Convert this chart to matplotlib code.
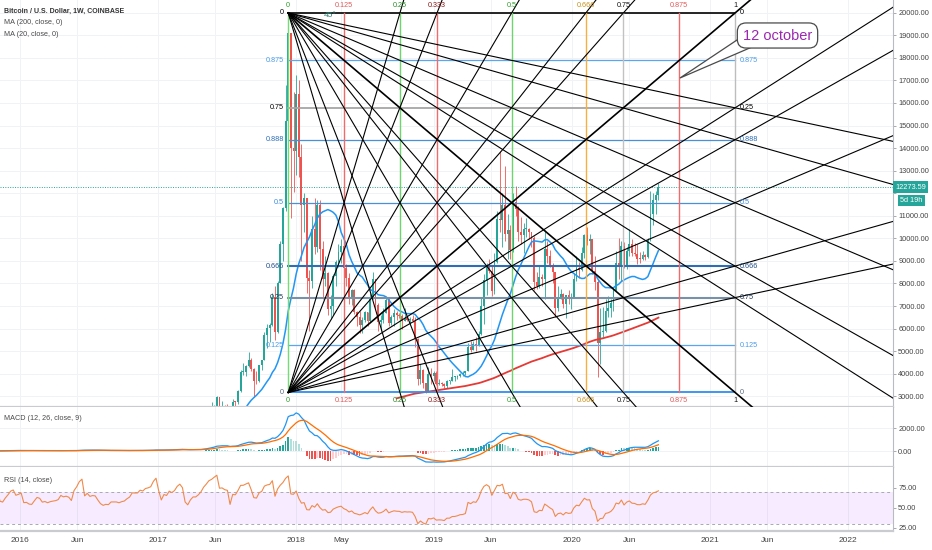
import numpy as np
import pandas as pd
import matplotlib
matplotlib.use("Agg")
import matplotlib.pyplot as plt
import matplotlib.dates as mdates
from matplotlib.patches import Polygon

plt.rcParams['font.family'] = ['Liberation Sans', 'DejaVu Sans']

# weekly closes (Coinbase BTC/USD, 1W), last bar = week of 2020-08-17
LAST_WEEK = '2020-08-17'
close_2014 = [375, 355, 330, 318, 315]
close_2015 = [275, 209, 253, 227, 222, 258, 240, 273, 276, 286, 261, 247, 254,
              236, 222, 219, 241, 242, 237, 240, 229, 224, 233, 244, 257, 270,
              312, 279, 288, 281, 263, 260, 228, 229, 240, 230, 232, 234, 239,
              246, 269, 287, 323, 387, 328, 323, 358, 390, 435, 452, 422, 433]
close_2016 = [448, 387, 390, 378, 376, 406, 438, 433, 410, 415, 408, 416, 420,
              423, 430, 461, 455, 460, 456, 443, 525, 575, 680, 760, 630, 680,
              650, 665, 662, 624, 587, 569, 581, 578, 609, 609, 609, 603, 613,
              619, 640, 657, 705, 704, 705, 738, 734, 766, 775, 791, 894, 998]
close_2017 = [910, 820, 925, 915, 1015, 1000, 1050, 1180, 1270, 1230, 1020, 965,
              1090, 1180, 1180, 1245, 1350, 1560, 1750, 2050, 2200, 2520, 2950,
              2550, 2580, 2520, 2500, 1930, 2750, 2730, 3230, 4070, 4090, 4350,
              4600, 4220, 3690, 3660, 4380, 4610, 5700, 6010, 6150, 7400, 5860,
              8040, 9740, 11350, 15200, 19100, 14000, 13880]
close_2018 = [16400, 13600, 11500, 11800, 8250, 8100, 10400, 9600, 11500, 9550,
              8200, 8450, 6850, 7000, 8350, 8930, 9400, 9650, 8700, 8250, 7350,
              7700, 6750, 6500, 6150, 6400, 6750, 6350, 7400, 8200, 7030, 6300,
              6400, 6700, 7270, 6250, 6500, 6700, 6600, 6570, 6350, 6460, 6400,
              6420, 6350, 5550, 3780, 4150, 3580, 3230, 4000, 3920, 4050]
close_2019 = [3550, 3580, 3550, 3440, 3690, 3690, 3850, 3860, 3920, 4010, 4030,
              4100, 5200, 5070, 5300, 5250, 5750, 7000, 8150, 8720, 8550, 7650,
              8950, 10850, 10800, 11500, 10200, 10350, 9500, 11600, 11300, 10300,
              10150, 10400, 10400, 10300, 10000, 8050, 7900, 8300, 8220, 9550,
              9200, 8810, 8500, 6900, 7400, 7520, 7080, 7500, 7300, 7350]
close_2020 = [8180, 8700, 8600, 9350, 10150, 9900, 9950, 8550, 8050, 5350, 5850,
              5900, 6780, 6900, 7150, 7700, 8900, 8750, 9680, 8750, 9450, 9750,
              9350, 9300, 9100, 9080, 9250, 9180, 9930, 11100, 11700, 11900,
              12273.59]

# highs / lows of the bars from 2017-05-01 on (older bars sit below the view)
high = [1620, 1800, 2100, 2760, 2600, 3000, 2980, 2770, 2630, 2650, 2520, 2900,
        2800, 3300, 4160, 4480, 4390, 4980, 4700, 4260, 4100, 4400, 4620, 5850,
        6190, 6250, 7600, 7880, 8100, 9900, 11400, 16800, 19890, 19100, 16500,
        17250, 17000, 14200, 12000, 11700, 8600, 11000, 11800, 11700, 11700, 9900,
        9200, 8500, 7500, 8400, 9030, 9750, 9990, 9650, 8850, 8450, 7750, 7750,
        6800, 6800, 6500, 6800, 6750, 7600, 8500, 8200, 7150, 6600, 6900, 7400,
        7420, 6600, 6850, 6800, 6700, 6650, 6900, 6530, 6500, 6600, 6500, 5600,
        4450, 4200, 3600, 4300, 4250, 4120,
        4100, 3750, 3650, 3600, 3720, 3720, 4200, 3900, 3940, 4030, 4100, 4130,
        5350, 5470, 5430, 5650, 5900, 7400, 8400, 8900, 9100, 8800, 9350, 11200,
        13880, 12000, 13200, 11100, 10600, 12000, 12300, 11450, 10950, 10700,
        10900, 10450, 10300, 10100, 8500, 8800, 8400, 10350, 9900, 9500, 8900,
        8500, 7900, 7750, 7600, 7500, 7700, 7600,
        8450, 9200, 8950, 9600, 10200, 10500, 10200, 9990, 9200, 8200, 6900, 6950,
        7300, 7450, 7300, 7800, 9450, 10000, 9900, 9850, 9600, 10400, 9950, 9800,
        9750, 9400, 9450, 9300, 10000, 12100, 12000, 12100, 12450]
low = [1350, 1540, 1720, 1900, 2100, 2470, 2200, 2460, 2330, 2400, 1840, 1930,
       2450, 2680, 3200, 3950, 3900, 4310, 4110, 2980, 3530, 3650, 4170, 4600,
       5130, 5400, 6100, 5500, 5800, 8000, 9000, 11200, 15000, 10900, 12050,
       12800, 12700, 9000, 10300, 7600, 5900, 7800, 9300, 9400, 8600, 7300,
       7900, 6600, 6430, 6600, 7900, 8750, 8900, 8300, 7900, 7100, 7050, 6650,
       6100, 5800, 5800, 6300, 6100, 6300, 7300, 6900, 5900, 5880, 6250, 6700,
       6100, 6150, 6100, 6400, 6480, 6000, 6350, 6330, 6250, 6300, 5200, 3500,
       3560, 3350, 3150, 3200, 3550, 3700,
       3500, 3500, 3470, 3350, 3380, 3560, 3680, 3700, 3750, 3850, 3920, 3950,
       4100, 4950, 5050, 5020, 5250, 5700, 6200, 7500, 8450, 7450, 7550, 8900,
       10300, 9600, 9900, 9100, 9100, 9400, 11000, 9900, 9750, 9350, 10050,
       9950, 9600, 7700, 7750, 7800, 7900, 7300, 8900, 8750, 8000, 6500, 6800,
       7300, 6900, 6450, 7100, 6850,
       7350, 8100, 8250, 8550, 9150, 9700, 9300, 8400, 7700, 3850, 4450, 5650,
       5850, 6500, 6500, 6800, 7650, 8200, 8100, 8700, 8650, 9200, 9200, 9200,
       8850, 8900, 9050, 9050, 9150, 9900, 10600, 11100, 11700]

# Gann box drawn on the chart
BOX_START, BOX_END = '2017-12-11', '2021-03-08'
BOX_LO, BOX_HI = 3170, 19990
price_levels = [1, 0.875, 0.75, 0.666, 0.5, 0.333, 0.25, 0.125, 0]
left_labels = ['0', '0.875', '0.75', '0.888', '0.5', '0.666', '0.25', '0.125', '0']
right_labels = ['0', '0.875', '0.25', '0.888', '0.5', '0.666', '0.75', '0.125', '0']
time_levels = [0, 0.125, 0.25, 0.333, 0.5, 0.666, 0.75, 0.875, 1]
time_labels = ['0', '0.125', '0.25', '0.333', '0.5', '0.666', '0.75', '0.875', '1']
fan_price = [0.25, 0.333, 0.5, 0.666, 0.75]
fan_time = [0.25, 0.333, 0.5, 0.666, 0.75, 1]

xtick_dates = ['2016-01-01', '2016-06-01', '2017-01-01', '2017-06-01', '2018-01-01',
               '2018-05-01', '2019-01-01', '2019-06-01', '2020-01-01', '2020-06-01',
               '2021-01-01', '2021-06-01', '2022-01-01']
xtick_labels = ['2016', 'Jun', '2017', 'Jun', '2018', 'May', '2019', 'Jun', '2020',
                'Jun', '2021', 'Jun', '2022']

UP, DOWN = '#26a69a', '#ef5350'
AXC = '#444444'


def main():
    close = close_2014 + close_2015 + close_2016 + close_2017 + close_2018 + close_2019 + close_2020
    dates = pd.date_range(end=LAST_WEEK, periods=len(close), freq='7D')
    s = pd.Series(close, index=dates, dtype=float)
    x = mdates.date2num(dates)

    ma20 = s.rolling(20).mean()
    ma200 = s.rolling(200).mean()
    macd = s.ewm(span=12, adjust=False).mean() - s.ewm(span=26, adjust=False).mean()
    signal = macd.ewm(span=9, adjust=False).mean()
    hist = macd - signal
    d = s.diff()
    gain = d.clip(lower=0).ewm(alpha=1 / 14, adjust=False).mean()
    loss = (-d.clip(upper=0)).ewm(alpha=1 / 14, adjust=False).mean()
    rsi = 100 - 100 / (1 + gain / loss)

    fig = plt.figure(figsize=(9.32, 5.5), dpi=100)
    W = 893 / 932
    ax = fig.add_axes([0, 1 - 407 / 550, W, 407 / 550])
    axm = fig.add_axes([0, 1 - 467 / 550, W, 60 / 550], sharex=ax)
    axr = fig.add_axes([0, 1 - 531 / 550, W, 64 / 550], sharex=ax)

    xt = mdates.date2num(pd.to_datetime(xtick_dates))
    for a in (ax, axm, axr):
        a.set_facecolor('white')
        for sp in ('top', 'left'):
            a.spines[sp].set_visible(False)
        a.spines['right'].set_color('#b8bbc2')
        a.spines['right'].set_linewidth(0.8)
        a.spines['bottom'].set_color('#c9cbd1')
        a.spines['bottom'].set_linewidth(1.6)
        a.yaxis.tick_right()
        a.tick_params(axis='y', direction='out', length=2.5, width=0.6, color='#9a9ca3',
                      labelsize=5.3, labelcolor=AXC, pad=1.2)
        a.tick_params(axis='x', length=0)
        for v in xt:
            a.axvline(v, color='#f0f2f6', lw=0.7, zorder=0)
    ax.set_xlim(mdates.date2num(pd.Timestamp('2015-11-09')), mdates.date2num(pd.Timestamp('2022-04-30')))

    # ---- price panel
    last = close[-1]
    yt = np.arange(3000, 20001, 1000)
    ax.set_ylim(2526, 20563)
    ax.set_yticks(yt)
    # the axis label under the last-price marker is hidden, as on the chart
    ax.set_yticklabels(['' if abs(v - last) < 600 else '%.2f' % v for v in yt])
    for v in yt:
        ax.axhline(v, color='#f0f2f6', lw=0.7, zorder=0)
    plt.setp(ax.get_xticklabels(), visible=False)
    plt.setp(axm.get_xticklabels(), visible=False)

    n = len(high)
    cx = x[-n:]
    c = s.values[-n:]
    o = s.values[-n - 1:-1]
    h = np.maximum(np.array(high, float), np.maximum(o, c))
    lo = np.minimum(np.array(low, float), np.minimum(o, c))
    cols = np.where(c >= o, UP, DOWN)
    ax.vlines(cx, lo, h, colors=cols, lw=0.6, zorder=2)
    ax.bar(cx, np.maximum(np.abs(c - o), 40), bottom=np.minimum(o, c), width=5,
           color=cols, linewidth=0, zorder=2)
    ax.plot(x, ma200.values, color='#e53935', lw=1.3, zorder=2.5)
    ax.plot(x, ma20.values, color='#2196f3', lw=1.1, zorder=2.5)

    ax.axhline(last, color=UP, lw=0.7, ls=(0, (1, 1.5)), zorder=2)
    ax.annotate('%.2f' % last, xy=(1, last), xycoords=ax.get_yaxis_transform(),
                xytext=(1.5, 0), textcoords='offset points', ha='left', va='center',
                fontsize=5.3, color='white', annotation_clip=False,
                bbox=dict(boxstyle='square,pad=0.3', fc=UP, ec='none'), zorder=10)
    ax.annotate('5d 19h', xy=(1, last), xycoords=ax.get_yaxis_transform(),
                xytext=(5, -9.5), textcoords='offset points', ha='left', va='center',
                fontsize=5.3, color='white', annotation_clip=False,
                bbox=dict(boxstyle='square,pad=0.3', fc=UP, ec='none'), zorder=10)

    # ---- Gann box
    t0 = mdates.date2num(pd.Timestamp(BOX_START))
    t1 = mdates.date2num(pd.Timestamp(BOX_END))
    bw, bh = t1 - t0, BOX_HI - BOX_LO
    hl_colors = ['#000000', '#5aa6ef', '#a6a6a6', '#4a90d9', '#4a90d9', '#2f6db5',
                 '#7890a8', '#5aa6ef', '#2f8ff0']
    hl_widths = [1.2, 0.9, 1.3, 0.9, 0.9, 1.5, 1.5, 0.9, 1.3]
    lab_colors = ['#000000', '#4a9be8', '#000000', '#2a6ebb', '#3d8be0', '#1f4e8c',
                  '#1f3550', '#4a9be8', '#5a6a80']
    for p, ll, rl, c_, w_, lc in zip(price_levels, left_labels, right_labels,
                                      hl_colors, hl_widths, lab_colors):
        yv = BOX_LO + p * bh
        ax.plot([t0, t1], [yv, yv], color=c_, lw=w_, zorder=3)
        ax.annotate(ll, (t0, yv), xytext=(-3, 0), textcoords='offset points',
                    ha='right', va='center', fontsize=5.2, color=lc, zorder=5)
        ax.annotate(rl, (t1, yv), xytext=(3, 0), textcoords='offset points',
                    ha='left', va='center', fontsize=5.2, color=lc, zorder=5)

    vl_colors = ['#72dd72', '#f26b6b', '#6fd46f', '#f26b6b', '#6fd46f', '#f5b041',
                 '#c2c2c2', '#f26b6b', '#bdbdbd']
    tl_colors = ['#2e9e2e', '#e05a5a', '#2a8a2a', '#8b1a1a', '#2e9e2e', '#c8901a',
                 '#111111', '#e05a5a', '#111111']
    for f, lab, vc, tc in zip(time_levels, time_labels, vl_colors, tl_colors):
        xv = t0 + f * bw
        ax.plot([xv, xv], [BOX_LO, BOX_HI], color=vc, lw=1.0, zorder=3)
        ax.annotate(lab, (xv, BOX_HI), xytext=(0, 3), textcoords='offset points',
                    ha='center', va='bottom', fontsize=5.2, color=tc, zorder=5)
        ax.annotate(lab, (xv, BOX_LO), xytext=(0, -3), textcoords='offset points',
                    ha='center', va='top', fontsize=5.2, color=tc, zorder=5)

    def ray(p0, p1, lw=0.8):
        ax.plot([p0[0], p0[0] + 6 * (p1[0] - p0[0])], [p0[1], p0[1] + 6 * (p1[1] - p0[1])],
                color='black', lw=lw, zorder=3.5)

    for p in fan_price:
        ray((t0, BOX_HI), (t1, BOX_LO + p * bh))
        ray((t0, BOX_LO), (t1, BOX_LO + p * bh))
    for f in fan_time:
        lw = 1.2 if f == 1 else 0.8
        ray((t0, BOX_HI), (t0 + f * bw, BOX_LO), lw)
        ray((t0, BOX_LO), (t0 + f * bw, BOX_HI), lw)
    ax.text(t0 + 0.094 * bw, BOX_HI - 0.006 * bh, '45°', fontsize=6, color='#2e7d6e',
            ha='center', va='center', zorder=5)

    # callout
    tail = Polygon([(737 / 893, 1 - 40 / 407), (680 / 893, 1 - 78 / 407), (752 / 893, 1 - 47 / 407)],
                   closed=True, transform=ax.transAxes, fc='white', ec='#4a4a4a', lw=0.9, zorder=6)
    ax.add_patch(tail)
    ax.text(777.5 / 893, 1 - 35.5 / 407, '12 october', transform=ax.transAxes, ha='center',
            va='center', fontsize=10.5, color='#9c27b0', zorder=7,
            bbox=dict(boxstyle='round,pad=0.38,rounding_size=0.6', fc='white', ec='#4a4a4a', lw=0.9))

    ax.text(4 / 893, 1 - 11 / 407, 'Bitcoin / U.S. Dollar, 1W, COINBASE', transform=ax.transAxes,
            fontsize=5, color='#333333', fontweight='bold', va='center', zorder=8)
    ax.text(4 / 893, 1 - 23 / 407, 'MA (200, close, 0)', transform=ax.transAxes,
            fontsize=5.2, color='#4a4a4a', va='center', zorder=8)
    ax.text(4 / 893, 1 - 34 / 407, 'MA (20, close, 0)', transform=ax.transAxes,
            fontsize=5.2, color='#4a4a4a', va='center', zorder=8)

    # ---- MACD panel
    axm.set_ylim(-1391, 3826)
    axm.set_yticks([0, 2000])
    axm.set_yticklabels(['0.00', '2000.00'])
    for v in (0, 2000):
        axm.axhline(v, color='#f0f2f6', lw=0.7, zorder=0)
    hv = hist.values
    prev = np.r_[hv[0], hv[:-1]]
    hcols = np.where(hv >= 0, np.where(hv >= prev, '#26a69a', '#b2dfdb'),
                     np.where(hv < prev, '#ef5350', '#ffcdd2'))
    axm.bar(x, hv, width=4.5, color=hcols, linewidth=0, zorder=2)
    axm.plot(x, macd.values, color='#2196f3', lw=0.9, zorder=3)
    axm.plot(x, signal.values, color='#ff6d00', lw=0.9, zorder=3)
    axm.text(4 / 893, 1 - 12 / 60, 'MACD (12, 26, close, 9)', transform=axm.transAxes,
             fontsize=5.2, color='#4a4a4a', va='center')

    # ---- RSI panel
    axr.set_ylim(21.25, 101.25)
    axr.set_yticks([25, 50, 75])
    axr.set_yticklabels(['25.00', '50.00', '75.00'])
    axr.axhspan(30, 70, color='#9915ff', alpha=0.08, lw=0, zorder=1)
    for v in (30, 70):
        axr.axhline(v, color='#a9a9b3', lw=0.7, ls=(0, (3, 3)), zorder=1.5)
    axr.plot(x, rsi.values, color='#f08a4b', lw=0.8, zorder=3)
    axr.text(4 / 893, 1 - 14 / 64, 'RSI (14, close)', transform=axr.transAxes,
             fontsize=5.2, color='#4a4a4a', va='center')
    axr.set_xticks(xt)
    axr.set_xticklabels(xtick_labels)
    axr.tick_params(axis='x', labelsize=6, labelcolor=AXC, pad=4)

    fig.savefig('out.png', dpi=100)


if __name__ == "__main__":
    main()
